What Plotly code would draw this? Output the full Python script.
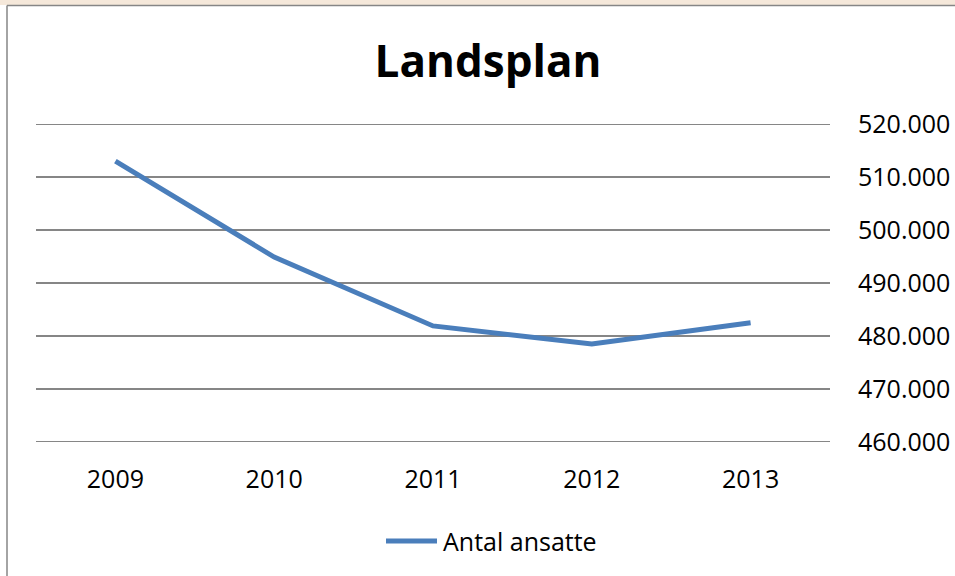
import plotly.graph_objects as go

years = ["2009", "2010", "2011", "2012", "2013"]
antal_ansatte = [513000, 494900, 481900, 478500, 482500]
y_ticks = [460000, 470000, 480000, 490000, 500000, 510000, 520000]
series_name = "Antal ansatte"

W, H = 955, 576
L, R, T, B = 36, 125, 124, 134
pw, ph = W - L - R, H - T - B

def px_x(p):
    return (p - L) / pw

def px_y(p):
    return (H - B - p) / ph

FONT = "Open Sans"
GRID = "#868686"
BLUE = "#4A7EBB"

fig = go.Figure()
fig.add_trace(go.Scatter(
    x=years, y=antal_ansatte, mode="lines", name=series_name,
    line=dict(color=BLUE, width=5), showlegend=False,
))

shapes = [
    dict(type="rect", xref="paper", yref="paper", x0=px_x(-5), x1=px_x(W + 5),
         y0=px_y(5), y1=px_y(-5), fillcolor="#F5E8DA", line=dict(width=0), layer="below"),
    dict(type="line", xref="paper", yref="paper", x0=px_x(7), x1=px_x(W + 5),
         y0=px_y(5.5), y1=px_y(5.5), line=dict(color=GRID, width=1.5), layer="below"),
    dict(type="line", xref="paper", yref="paper", x0=px_x(7), x1=px_x(7),
         y0=px_y(5.5), y1=px_y(H + 5), line=dict(color=GRID, width=1.5), layer="below"),
    # legend sample line
    dict(type="line", xref="paper", yref="paper", x0=px_x(386), x1=px_x(437),
         y0=px_y(541), y1=px_y(541), line=dict(color=BLUE, width=5)),
]
# edge gridlines (plotly hides gridlines at the plot edges)
for v in (y_ticks[0], y_ticks[-1]):
    shapes.append(dict(type="line", xref="paper", yref="y", x0=0, x1=1, y0=v, y1=v,
                       line=dict(color=GRID, width=2), layer="below"))

annotations = [
    dict(text=series_name, xref="paper", yref="paper", x=px_x(441), y=px_y(541),
         xanchor="left", yanchor="middle", showarrow=False,
         font=dict(family=FONT, size=25, color="black")),
]

fig.update_layout(
    width=W, height=H,
    margin=dict(l=L, r=R, t=T, b=B),
    paper_bgcolor="white", plot_bgcolor="white",
    separators=",.",
    font=dict(family=FONT, color="black", size=25),
    title=dict(text="<b>Landsplan</b>", x=px_x(488), xref="paper", xanchor="center",
               y=1 - 62 / H, yanchor="middle", yref="container",
               font=dict(family=FONT, size=44, color="black")),
    xaxis=dict(type="category", range=[-0.5, 4.5], showgrid=False, showline=False,
               zeroline=False, ticks="", ticklabelstandoff=20, automargin=False,
               tickfont=dict(size=25, family=FONT)),
    yaxis=dict(side="right", range=[y_ticks[0], y_ticks[-1]], tickvals=y_ticks,
               tickformat=",d", automargin=False,
               showgrid=True, gridcolor=GRID, gridwidth=2, zeroline=False,
               showline=False, ticks="", ticklabelstandoff=27,
               tickfont=dict(size=25, family=FONT)),
    showlegend=False,
    shapes=shapes,
    annotations=annotations,
)

fig.write_html("out.html", config=dict(displayModeBar=False),
               post_script="document.body.style.margin='0';document.body.style.padding='0';")
